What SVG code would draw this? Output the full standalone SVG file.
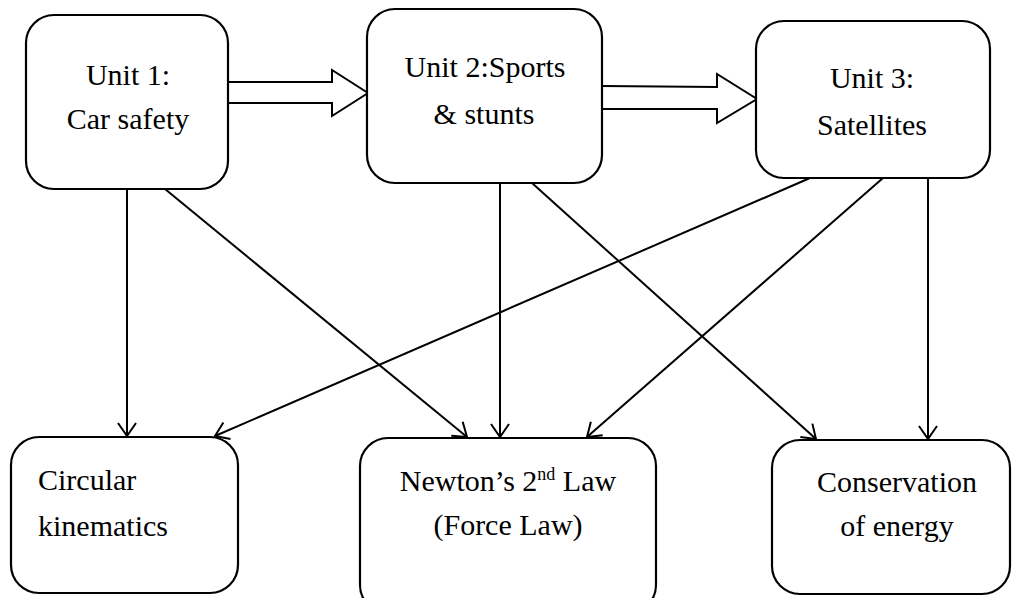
<svg xmlns="http://www.w3.org/2000/svg" width="1014" height="598" viewBox="0 0 1014 598">
<style>
.box{fill:#fff;stroke:#000;stroke-width:2.2}
.t{font-family:"Liberation Serif","Times New Roman",serif;font-size:30px;fill:#000}
.c{text-anchor:middle}
.ln{stroke:#000;stroke-width:2;fill:none;marker-end:url(#ah)}
.blk{fill:#fff;stroke:#000;stroke-width:2;stroke-linejoin:miter}
</style>
<defs>
<marker id="ah" viewBox="-14 -10 16 20" refX="0" refY="0" markerWidth="16" markerHeight="20" markerUnits="userSpaceOnUse" orient="auto">
<path d="M-13,-9 L0,0 L-13,9" fill="none" stroke="#000" stroke-width="2"/>
</marker>
</defs>
<rect width="1014" height="598" fill="#fff"/>
<g id="connectors">
<path class="blk" d="M228,82 L332,82 L332,70 L368,93 L332,116 L332,103 L228,103"/>
<path class="blk" d="M602,86 L717,87 L717,74 L757,99 L717,123 L717,109 L602,109"/>
<line class="ln" x1="127" y1="189" x2="127" y2="436"/>
<line class="ln" x1="165" y1="189" x2="467" y2="437"/>
<line class="ln" x1="500" y1="183" x2="500" y2="437"/>
<line class="ln" x1="532" y1="183" x2="816" y2="439"/>
<line class="ln" x1="810" y1="178" x2="215" y2="436"/>
<line class="ln" x1="883" y1="178" x2="587" y2="437"/>
<line class="ln" x1="928" y1="178" x2="928" y2="439"/>
</g>
<g id="unit1">
<rect class="box" x="26" y="15" width="202" height="174" rx="28"/>
<text class="t c" x="128" y="85">Unit 1:</text>
<text class="t c" x="128" y="129">Car safety</text>
</g>
<g id="unit2">
<rect class="box" x="367" y="9" width="235" height="174" rx="28"/>
<text class="t c" x="485" y="77">Unit 2:Sports</text>
<text class="t c" x="484" y="124">&amp; stunts</text>
</g>
<g id="unit3">
<rect class="box" x="756" y="21" width="234" height="157" rx="28"/>
<text class="t c" x="872" y="88">Unit 3:</text>
<text class="t c" x="872" y="135">Satellites</text>
</g>
<g id="circular">
<rect class="box" x="11" y="437" width="227" height="156" rx="28"/>
<text class="t" x="38" y="490">Circular</text>
<text class="t" x="38" y="536">kinematics</text>
</g>
<g id="newton">
<rect class="box" x="360" y="438" width="296" height="175" rx="28"/>
<text class="t c" x="508" y="491">Newton’s 2<tspan font-size="18" dy="-11">nd</tspan><tspan dy="11"> Law</tspan></text>
<text class="t c" x="508" y="535">(Force Law)</text>
</g>
<g id="conservation">
<rect class="box" x="772" y="440" width="238" height="154" rx="28"/>
<text class="t c" x="897" y="492">Conservation</text>
<text class="t c" x="897" y="536">of energy</text>
</g>
</svg>
